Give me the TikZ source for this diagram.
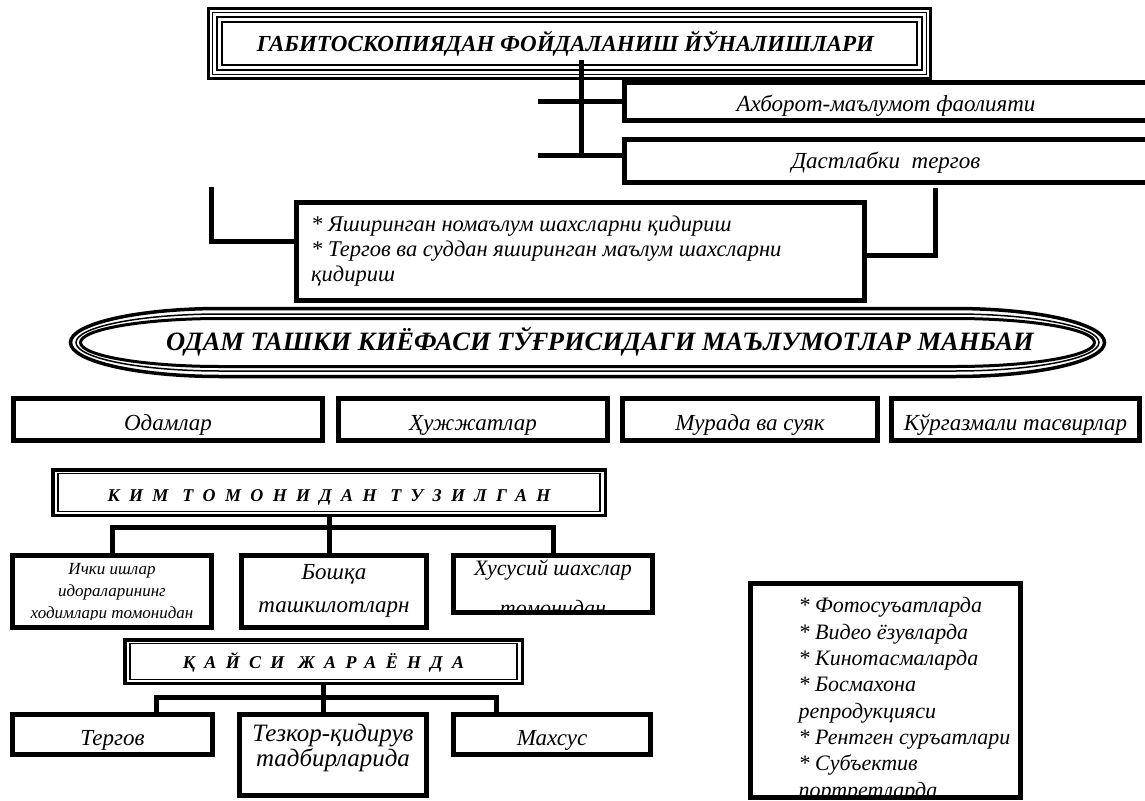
\documentclass[tikz,border=0pt]{standalone}
\usepackage{fontspec}
\setmainfont{Liberation Serif}
\usetikzlibrary{positioning}

\newcommand{\sink}[2][5pt]{\raisebox{-#1}[16pt][5pt]{#2}}

\tikzset{
  box/.style={draw, line width=5pt, inner sep=0pt, align=center,
    font=\itshape\fontsize{23}{26}\selectfont},
  wire/.style={line width=5pt},
  headbox/.style={draw, line width=3.5pt, inner sep=0pt,
    font=\bfseries\itshape\fontsize{18}{21}\selectfont\addfontfeature{LetterSpace=52}},
  inside/.style n args={3}{path picture={
    \clip (path picture bounding box.north west) rectangle ([yshift=#3]path picture bounding box.south east);
    \node[draw=none, inner sep=0pt, align=center] at ([yshift=#1]path picture bounding box.center) {#2};}},
}

\begin{document}
\begin{tikzpicture}[x=1pt, y=-1pt]
\useasboundingbox (0,0) rectangle (1145,800);

% title with triple frame
\node[draw, line width=3.3pt, minimum width=721.7pt, minimum height=69.7pt,
  font=\bfseries\itshape\fontsize{23}{26}\selectfont] (title) at (569.5,43.5)
  {\hspace*{-8pt}ГАБИТОСКОПИЯДАН ФОЙДАЛАНИШ ЙЎНАЛИШЛАРИ};
\foreach \d/\w in {5.5/1.5, 10/2.3, 15/1.5}
  \draw[line width=\w pt] ([shift={(\d,\d)}]title.north west) rectangle ([shift={(-\d,-\d)}]title.south east);

% two directions
\node[box, minimum width=523pt, minimum height=38pt] (info) at (886,101.5) {\sink[4pt]{Ахборот-маълумот фаолияти}};
\node[box, minimum width=523pt, minimum height=43pt] (dast) at (886,161) {\sink[2pt]{Дастлабки\ \ тергов}};

\coordinate (tap) at (581,60);
\coordinate (stub) at (538,0);
\draw[wire] (tap) -- (tap |- info.west) -- ([yshift=6pt]tap |- dast.west);
\draw[wire] (info.west) -- (info.west -| stub);
\draw[wire] ([yshift=6pt]dast.west) -- ([yshift=6pt]dast.west -| stub);

% search tasks
\node[box, minimum width=568pt, minimum height=98pt] (hunt) at (580.5,251.5) {};
\node[anchor=base west, align=left, inner sep=0pt, font=\itshape\fontsize{22.5}{25}\selectfont] (hunttext) at (311,281)
  {* Яширинган номаълум шахсларни қидириш\\* Тергов ва суддан яширинган маълум шахсларни\\қидириш};
\coordinate (lhook) at (211.5,187);
\coordinate (rhook) at (935,188);
\draw[wire] (lhook) |- ([yshift=10pt]hunt.west);
\draw[wire] (rhook) |- ([yshift=-4pt]hunt.east);

% banner
\node[font=\bfseries\itshape\fontsize{26.5}{30}\selectfont] (source) at (600,342)
  {ОДАМ ТАШКИ КИЁФАСИ ТЎҒРИСИДАГИ МАЪЛУМОТЛАР МАНБАИ};
\foreach \d/\w in {0/3.5, 5.5/1.5, 10/3}
  \draw[line width=\w pt] (70.5+150,308.5+\d) -- (1104.5-150,308.5+\d)
    arc[start angle=-90, end angle=90, x radius=150-\d, y radius=34-\d]
    -- (70.5+150,376.5-\d)
    arc[start angle=90, end angle=270, x radius=150-\d, y radius=34-\d] -- cycle;

% four sources
\node[box, minimum width=309pt, minimum height=42pt] (people) at (168,419.5) {\sink{Одамлар}};
\node[box, minimum width=269pt, minimum height=42pt] (papers) at (473,419.5) {\sink{Ҳужжатлар}};
\node[box, minimum width=255pt, minimum height=42pt] (remains) at (750,419.5) {\sink{Мурада ва суяк}};
\node[box, minimum width=248pt, minimum height=42pt] (images) at (1015.5,419.5) {\sink{Кўргазмали тасвирлар}};

% who made it
\node[headbox, minimum width=552.5pt, minimum height=45.5pt] (kim) at (329,492.5) {\sink[3pt]{КИМ ТОМОНИДАН ТУЗИЛГАН}};
\draw[line width=1.3pt] ([shift={(7,5.5)}]kim.north west) rectangle ([shift={(-7,-5.5)}]kim.south east);

\node[box, minimum width=199pt, minimum height=72pt, font=\itshape\fontsize{17}{22}\selectfont,
  inside={-1.5pt}{Ички ишлар\\идораларининг\\ходимлари томонидан}{8pt}] (byorg) at (112,591.5) {};
\node[box, minimum width=185pt, minimum height=72pt, font=\itshape\fontsize{23}{33}\selectfont,
  inside={1pt}{Бошқа\\ташкилотларн}{2pt}] (byother) at (334,591.5) {};
\node[box, minimum width=199pt, minimum height=57pt, font=\itshape\fontsize{22}{40}\selectfont,
  inside={-4pt}{Хусусий шахслар\\томонидан}{2pt}] (byself) at (553,584) {};

\coordinate (kbus) at (0,527);
\draw[wire] (kim.south) -- (kim.south |- byother.north);
\draw[wire] (byorg.north) |- (byself.north |- kbus) -- (byself.north);

% in which process
\node[headbox, minimum width=397.5pt, minimum height=43.5pt] (qay) at (323.5,661.5) {\sink[1pt]{ҚАЙСИ ЖАРАЁНДА}};
\draw[line width=1.3pt] ([shift={(7,5.5)}]qay.north west) rectangle ([shift={(-7,-5.5)}]qay.south east);

\node[box, minimum width=200pt, minimum height=40pt] (tergov) at (112.5,734.5) {\sink{Тергов}};
\node[box, minimum width=187pt, minimum height=81pt, font=\itshape\fontsize{25}{25}\selectfont,
  inside={7.5pt}{Тезкор-қидирув\\тадбирларида}{2pt}] (tezkor) at (333,755) {};
\node[box, minimum width=197pt, minimum height=40pt] (maxsus) at (552,734.5) {\sink{Махсус}};

\coordinate (jl) at (156,697);
\coordinate (jr) at (496,697);
\draw[wire] (qay.south) -- (qay.south |- tezkor.north);
\draw[wire] (jl |- tergov.north) -- (jl) -- (jr) -- (jr |- maxsus.north);

% carriers
\node[box, minimum width=270pt, minimum height=214pt,
  path picture={\node[anchor=base west, align=left, inner sep=0pt, font=\itshape\fontsize{22}{26.3}\selectfont]
    at ([shift={(16.5,213.5)}]path picture bounding box.north west)
    {* Фотосуъатларда\\* Видео ёзувларда\\* Кинотасмаларда\\* Босмахона\\репродукцияси\\* Рентген суръатлари\\* Субъектив\\портретларда};}]
  (carriers) at (885.5,690.5) {};

\end{tikzpicture}
\end{document}
